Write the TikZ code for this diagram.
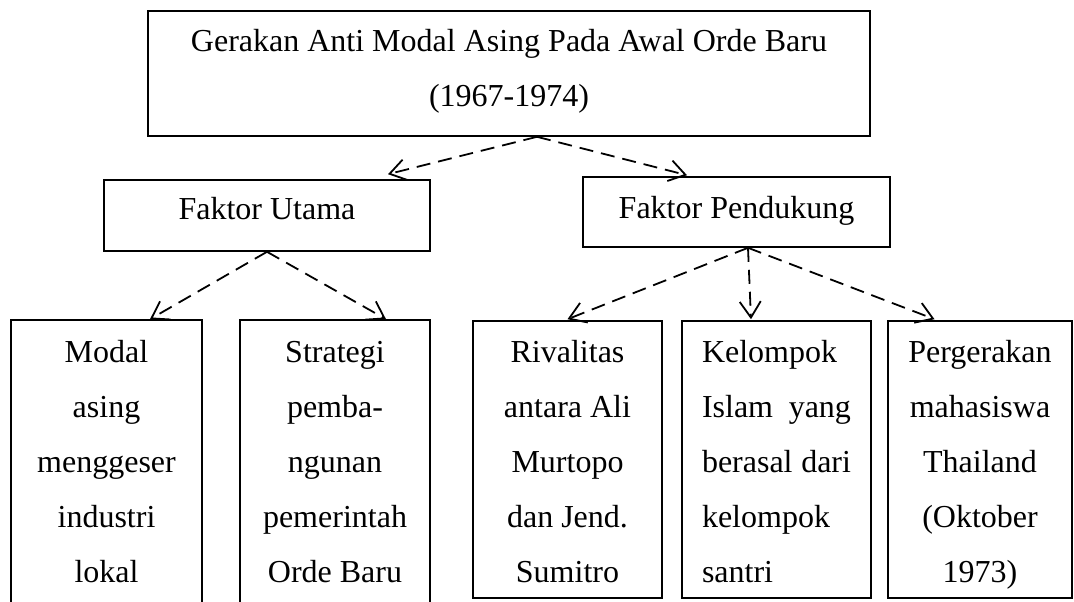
\documentclass[tikz,border=0pt]{standalone}
\usepackage{fontspec}
\setmainfont{Liberation Serif}
\usetikzlibrary{arrows.meta}
\begin{document}
\begin{tikzpicture}[x=1pt,y=-1pt,
  boxline/.style={line width=1.6pt},
  box/.style={draw, boxline, inner sep=0pt, font=\fontsize{32}{55}\selectfont, text height=22pt},
  colbox/.style={box, minimum width=189pt, minimum height=277pt, text width=180pt, align=flush center, text depth=217pt},
  conn/.style={line width=1.8pt, dash pattern=on 14pt off 8pt, -{Straight Barb[length=16pt,width=21pt,line width=1.8pt]}}
]
\useasboundingbox (0,0) rectangle (1074,602);

\node[box, minimum width=722pt, minimum height=125pt, text width=700pt, align=flush center, text depth=65pt] (top) at (509,73.5) {Gerakan Anti Modal Asing Pada Awal Orde Baru\\(1967-1974)};

\node[box, minimum width=326pt, minimum height=71pt, text depth=15pt] (fu) at (267,215.5) {Faktor Utama};
\node[box, minimum width=307pt, minimum height=70pt, text depth=10pt] (fp) at (736.5,212) {Faktor Pendukung};

\node[colbox, draw=none] (b1) at (106.5,459.5) {Modal\\asing\\menggeser\\industri\\lokal};
\node[colbox, draw=none, minimum width=188pt] (b2) at (335,459.5) {Strategi\\pemba-\\ngunan\\pemerintah\\Orde Baru};
\node[colbox] (b3) at (567.5,459.5) {Rivalitas\\antara Ali\\Murtopo\\dan Jend.\\Sumitro};
\node[colbox, text width=149pt, align=flush left] (b4) at (776.5,459.5) {Kelompok\\\makebox[149pt][s]{Islam yang}\\\makebox[149pt][s]{berasal dari}\\kelompok\\santri};
\node[colbox, minimum width=184pt] (b5) at (980,459.5) {Pergerakan\\mahasiswa\\Thailand\\(Oktober\\1973)};

\draw[boxline] ([yshift=-12pt]b1.south west) -- (b1.north west) -- (b1.north east) -- ([yshift=-12pt]b1.south east);
\draw[boxline] ([yshift=-12pt]b2.south west) -- (b2.north west) -- (b2.north east) -- ([yshift=-12pt]b2.south east);

\draw[conn] ([xshift=28pt]top.south) -- ([xshift=121pt,yshift=5pt]fu.north);
\draw[conn] ([xshift=28pt]top.south) -- ([xshift=-49.5pt,yshift=1pt]fp.north);
\draw[conn] (fu.south) -- ([xshift=43.5pt,yshift=1pt]b1.north);
\draw[conn] (fu.south) -- ([xshift=51pt,yshift=1pt]b2.north);
\draw[conn] ([xshift=11.5pt]fp.south) -- ([yshift=1pt]b3.north);
\draw[conn] ([xshift=11.5pt]fp.south) -- ([xshift=-25.5pt,yshift=1pt]b4.north);
\draw[conn] ([xshift=11.5pt]fp.south) -- ([xshift=-45.5pt,yshift=1pt]b5.north);
\end{tikzpicture}
\end{document}
